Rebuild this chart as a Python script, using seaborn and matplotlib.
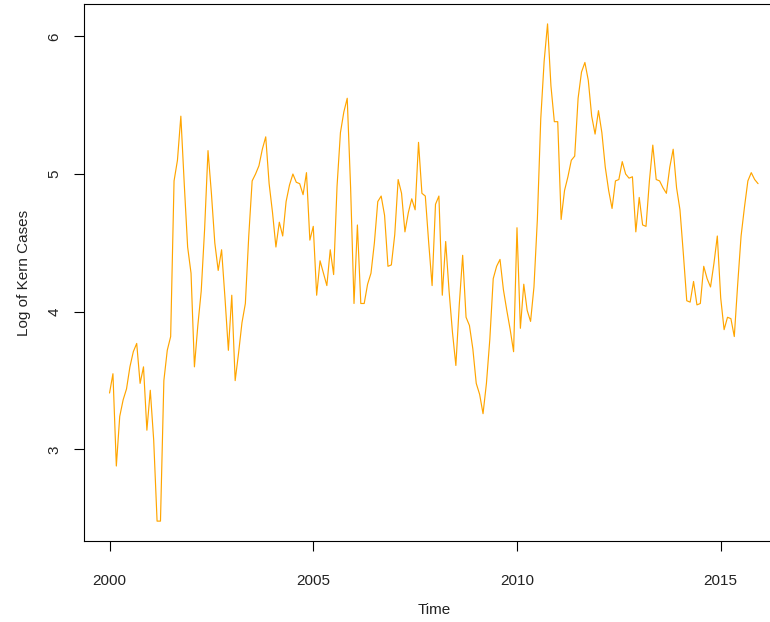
import numpy as np
import pandas as pd
import matplotlib
matplotlib.use("Agg")
import matplotlib.pyplot as plt
import seaborn as sns

# Monthly series, January 2000 to December 2015
start_year = 2000
log_cases = [
    3.41, 3.55, 2.88, 3.24, 3.36, 3.44, 3.60, 3.71, 3.77, 3.48, 3.60, 3.14,
    3.43, 3.07, 2.48, 2.48, 3.50, 3.72, 3.82, 4.95, 5.10, 5.42, 4.93, 4.47,
    4.28, 3.60, 3.90, 4.15, 4.60, 5.17, 4.86, 4.50, 4.30, 4.45, 4.10, 3.72,
    4.12, 3.50, 3.70, 3.92, 4.06, 4.55, 4.95, 5.00, 5.06, 5.18, 5.27, 4.93,
    4.72, 4.47, 4.65, 4.55, 4.80, 4.92, 5.00, 4.94, 4.93, 4.85, 5.01, 4.52,
    4.62, 4.12, 4.37, 4.28, 4.19, 4.45, 4.27, 4.91, 5.30, 5.45, 5.55, 4.90,
    4.06, 4.63, 4.06, 4.06, 4.20, 4.28, 4.50, 4.80, 4.84, 4.70, 4.33, 4.34,
    4.56, 4.96, 4.86, 4.58, 4.72, 4.82, 4.74, 5.23, 4.86, 4.84, 4.50, 4.19,
    4.78, 4.84, 4.12, 4.51, 4.15, 3.85, 3.61, 4.05, 4.41, 3.96, 3.90, 3.73,
    3.48, 3.40, 3.26, 3.48, 3.80, 4.24, 4.33, 4.38, 4.16, 4.01, 3.87, 3.71,
    4.61, 3.88, 4.20, 4.01, 3.93, 4.18, 4.67, 5.40, 5.82, 6.09, 5.64, 5.38,
    5.38, 4.67, 4.88, 4.98, 5.10, 5.13, 5.55, 5.74, 5.81, 5.68, 5.42, 5.29,
    5.46, 5.30, 5.05, 4.88, 4.75, 4.95, 4.96, 5.09, 5.00, 4.97, 4.98, 4.58,
    4.83, 4.63, 4.62, 4.95, 5.21, 4.96, 4.95, 4.90, 4.86, 5.05, 5.18, 4.90,
    4.74, 4.42, 4.08, 4.07, 4.22, 4.05, 4.06, 4.33, 4.24, 4.18, 4.35, 4.55,
    4.10, 3.87, 3.96, 3.95, 3.82, 4.20, 4.55, 4.76, 4.95, 5.01, 4.96, 4.93,
]
x_ticks = [2000, 2005, 2010, 2015]
y_ticks = [3, 4, 5, 6]

time = start_year + np.arange(len(log_cases)) / 12
df = pd.DataFrame({"Time": time, "Log of Kern Cases": log_cases})

sns.set_style("white")
plt.rcParams["font.family"] = ["Liberation Sans", "DejaVu Sans"]

fig = plt.figure(figsize=(7.7, 6.22), dpi=100)
ax = fig.add_axes([83.6 / 770, 81 / 622, (784 - 83.6) / 770, 537 / 622])

sns.lineplot(data=df, x="Time", y="Log of Kern Cases", color="#FFA500",
             linewidth=0.85, ax=ax)


def padded_range(values, frac=0.04):
    lo, hi = float(np.min(values)), float(np.max(values))
    pad = frac * (hi - lo)
    return lo - pad, hi + pad


ax.set_xlim(padded_range(time))
ax.set_ylim(padded_range(log_cases))
ax.set_xticks(x_ticks)
ax.set_yticks(y_ticks)
ax.set_xticklabels([str(t) for t in x_ticks])
ax.set_yticklabels([str(t) for t in y_ticks], rotation=90, va="center")

for spine in ax.spines.values():
    spine.set_color("black")
    spine.set_linewidth(0.8)

ax.tick_params(axis="both", which="major", direction="out", length=7,
               width=0.8, color="black", labelsize=11, labelcolor="#222222",
               bottom=True, left=True)
ax.tick_params(axis="x", pad=16.5)
ax.tick_params(axis="y", pad=9)

ax.set_xlabel("Time", fontsize=11, color="#222222", labelpad=11)
ax.set_ylabel("Log of Kern Cases", fontsize=11, color="#222222", labelpad=12)

fig.savefig("out.png", dpi=100)
